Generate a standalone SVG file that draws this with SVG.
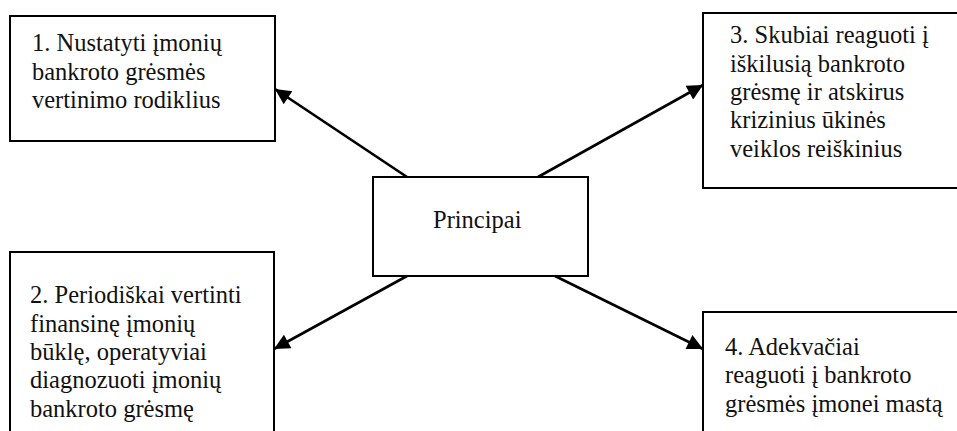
<svg xmlns="http://www.w3.org/2000/svg" width="957" height="431" viewBox="0 0 957 431">
<defs>
<marker id="ah" viewBox="0 0 10 10" refX="10" refY="5" markerWidth="7" markerHeight="6" markerUnits="strokeWidth" orient="auto">
<path d="M0,0 L10,5 L0,10 z" fill="#000"/>
</marker>
</defs>
<style>
.box{fill:#fff;stroke:#000;stroke-width:2}
.c{stroke:#000;stroke-width:2.6;fill:none;marker-end:url(#ah)}
</style>
<rect width="957" height="431" fill="#fff"/>
<g font-family="'Liberation Serif', 'Times New Roman', Times, 'DejaVu Serif', serif" font-size="24.5" fill="#111">
<g id="n1">
<rect class="box" x="10" y="16" width="265" height="125"/>
<text x="32" y="51">1. Nustatyti įmonių</text>
<text x="32" y="80">bankroto grėsmės</text>
<text x="32" y="108">vertinimo rodiklius</text>
</g>
<g id="n3">
<rect class="box" x="703" y="13" width="260" height="175"/>
<text x="730" y="43">3. Skubiai reaguoti į</text>
<text x="730" y="72">iškilusią bankroto</text>
<text x="730" y="100">grėsmę ir atskirus</text>
<text x="730" y="128">krizinius ūkinės</text>
<text x="730" y="157">veiklos reiškinius</text>
</g>
<g id="n2">
<rect class="box" x="10" y="252" width="264" height="190"/>
<text x="30" y="303">2. Periodiškai vertinti</text>
<text x="30" y="332">finansinę įmonių</text>
<text x="30" y="360">būklę, operatyviai</text>
<text x="30" y="388">diagnozuoti įmonių</text>
<text x="30" y="417">bankroto grėsmę</text>
</g>
<g id="n4">
<rect class="box" x="703" y="312" width="260" height="130"/>
<text x="725" y="355">4. Adekvačiai</text>
<text x="725" y="383">reaguoti į bankroto</text>
<text x="725" y="412">grėsmės įmonei mastą</text>
</g>
<g id="center">
<rect class="box" x="373" y="177" width="215" height="99"/>
<text x="433" y="228">Principai</text>
</g>
</g>
<g id="connectors">
<line class="c" x1="407" y1="177" x2="275" y2="89"/>
<line class="c" x1="538" y1="177" x2="703" y2="85"/>
<line class="c" x1="407" y1="276" x2="274" y2="349"/>
<line class="c" x1="555" y1="276" x2="703" y2="349"/>
</g>
</svg>
